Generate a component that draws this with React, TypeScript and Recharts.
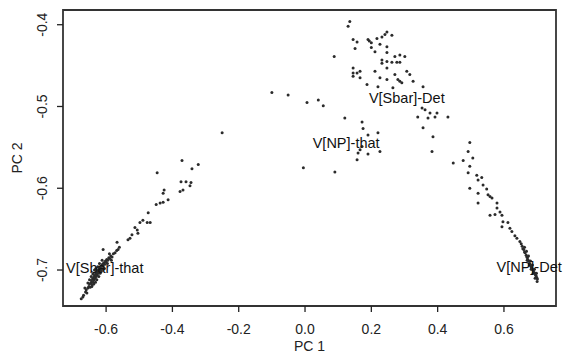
import React from "react";
import {
  ScatterChart,
  Scatter,
  XAxis,
  YAxis,
  ReferenceArea,
  ReferenceDot,
} from "recharts";

// PC scores
const leftArm: [number, number][] = [
  [-0.675, -0.735], [-0.668, -0.731], [-0.662, -0.727], [-0.66, -0.724],
  [-0.655, -0.722], [-0.652, -0.72], [-0.65, -0.717], [-0.648, -0.721],
  [-0.646, -0.716], [-0.644, -0.713], [-0.642, -0.718], [-0.641, -0.711],
  [-0.639, -0.715], [-0.638, -0.709], [-0.636, -0.712], [-0.635, -0.707],
  [-0.633, -0.71], [-0.632, -0.705], [-0.63, -0.708], [-0.629, -0.703],
  [-0.627, -0.706], [-0.626, -0.701], [-0.624, -0.704], [-0.622, -0.699],
  [-0.621, -0.702], [-0.619, -0.697], [-0.617, -0.7], [-0.615, -0.695],
  [-0.613, -0.698], [-0.611, -0.693], [-0.609, -0.695], [-0.607, -0.691],
  [-0.604, -0.693], [-0.602, -0.689], [-0.6, -0.69], [-0.598, -0.687],
  [-0.595, -0.688], [-0.592, -0.685], [-0.589, -0.686], [-0.586, -0.683],
  [-0.582, -0.684], [-0.578, -0.68], [-0.573, -0.679], [-0.568, -0.676],
  [-0.564, -0.675], [-0.56, -0.672], [-0.609, -0.675], [-0.567, -0.666],
  [-0.635, -0.7], [-0.628, -0.712], [-0.64, -0.705], [-0.622, -0.708],
  [-0.645, -0.708], [-0.618, -0.704], [-0.65, -0.712], [-0.615, -0.701],
  [-0.655, -0.716], [-0.61, -0.699], [-0.632, -0.715], [-0.625, -0.696],
  [-0.643, -0.72], [-0.612, -0.688], [-0.605, -0.698], [-0.596, -0.692],
  [-0.59, -0.68], [-0.584, -0.688], [-0.658, -0.728], [-0.664, -0.722],
  [-0.67, -0.733], [-0.62, -0.692], [-0.637, -0.717], [-0.631, -0.698],
  [-0.534, -0.663], [-0.528, -0.661], [-0.522, -0.657], [-0.506, -0.651],
  [-0.504, -0.655], [-0.513, -0.648], [-0.498, -0.642], [-0.489, -0.639],
  [-0.476, -0.642], [-0.467, -0.642], [-0.473, -0.63], [-0.449, -0.62],
  [-0.437, -0.618], [-0.428, -0.617], [-0.413, -0.614], [-0.428, -0.606],
  [-0.425, -0.602], [-0.377, -0.604], [-0.368, -0.602], [-0.374, -0.592],
  [-0.344, -0.593], [-0.359, -0.592], [-0.347, -0.597], [-0.446, -0.581],
  [-0.371, -0.566], [-0.341, -0.576], [-0.322, -0.571], [-0.25, -0.532],
];

const bridge: [number, number][] = [
  [-0.1, -0.483], [-0.051, -0.486], [0.006, -0.495], [0.04, -0.492],
  [0.055, -0.499], [-0.005, -0.575], [0.09, -0.58], [0.12, -0.514],
];

const topCluster: [number, number][] = [
  [0.135, -0.396], [0.13, -0.402], [0.088, -0.439], [0.145, -0.418],
  [0.157, -0.421], [0.151, -0.429], [0.19, -0.418], [0.194, -0.42],
  [0.2, -0.422], [0.217, -0.417], [0.232, -0.415], [0.241, -0.412],
  [0.247, -0.409], [0.262, -0.413], [0.226, -0.424], [0.247, -0.427],
  [0.2, -0.428], [0.211, -0.433], [0.247, -0.434], [0.271, -0.439],
  [0.286, -0.437], [0.301, -0.439], [0.232, -0.443], [0.232, -0.447],
  [0.247, -0.445], [0.262, -0.446], [0.277, -0.446], [0.286, -0.446],
  [0.247, -0.453], [0.145, -0.453], [0.166, -0.457], [0.145, -0.459],
  [0.157, -0.459], [0.145, -0.463], [0.166, -0.465], [0.211, -0.457],
  [0.271, -0.461], [0.307, -0.457], [0.316, -0.461], [0.28, -0.467],
  [0.286, -0.469], [0.292, -0.471], [0.226, -0.465], [0.247, -0.467],
  [0.187, -0.473], [0.22, -0.476], [0.265, -0.477], [0.326, -0.469],
  [0.356, -0.476],
];

const midCluster: [number, number][] = [
  [0.172, -0.519], [0.175, -0.527], [0.19, -0.535], [0.22, -0.532],
  [0.166, -0.553], [0.16, -0.557], [0.19, -0.558], [0.226, -0.555],
  [0.157, -0.565], [0.172, -0.549],
];

const rightArm: [number, number][] = [
  [0.353, -0.502], [0.362, -0.504], [0.377, -0.508], [0.398, -0.508],
  [0.392, -0.513], [0.431, -0.513], [0.34, -0.513], [0.371, -0.514],
  [0.356, -0.526], [0.386, -0.537], [0.383, -0.555], [0.497, -0.544],
  [0.492, -0.555], [0.477, -0.566], [0.506, -0.563], [0.447, -0.569],
  [0.497, -0.573], [0.492, -0.581], [0.518, -0.584], [0.522, -0.59],
  [0.533, -0.587], [0.537, -0.596], [0.548, -0.601], [0.497, -0.6],
  [0.522, -0.606], [0.552, -0.608], [0.558, -0.61], [0.564, -0.612],
  [0.579, -0.618], [0.522, -0.618], [0.579, -0.624], [0.588, -0.629],
  [0.573, -0.632], [0.558, -0.633], [0.594, -0.633], [0.597, -0.641],
  [0.612, -0.642], [0.594, -0.647], [0.618, -0.649], [0.624, -0.653],
  [0.633, -0.658], [0.639, -0.661], [0.648, -0.665], [0.652, -0.668],
  [0.655, -0.671], [0.657, -0.674], [0.66, -0.675], [0.662, -0.678],
  [0.664, -0.679], [0.667, -0.682], [0.669, -0.684], [0.671, -0.685],
  [0.673, -0.688], [0.675, -0.689], [0.677, -0.692], [0.679, -0.693],
  [0.681, -0.695], [0.683, -0.697], [0.685, -0.698], [0.687, -0.7],
  [0.689, -0.701], [0.691, -0.703], [0.693, -0.704], [0.695, -0.706],
  [0.697, -0.707], [0.699, -0.709], [0.701, -0.711], [0.662, -0.672],
  [0.668, -0.677], [0.674, -0.683], [0.68, -0.689], [0.686, -0.694],
  [0.692, -0.699], [0.698, -0.704], [0.7, -0.714], [0.694, -0.71],
  [0.688, -0.704], [0.682, -0.699], [0.676, -0.694], [0.67, -0.688],
];

const labels: { name: string; x: number; y: number }[] = [
  { name: "V[Sbar]-that", x: -0.604, y: -0.697 },
  { name: "V[Sbar]-Det", x: 0.307, y: -0.489 },
  { name: "V[NP]-that", x: 0.124, y: -0.544 },
  { name: "V[NP]-Det", x: 0.676, y: -0.696 },
];

const xTicks = [-0.6, -0.4, -0.2, 0, 0.2, 0.4, 0.6];
const yTicks = [-0.7, -0.6, -0.5, -0.4];
const xDomain: [number, number] = [-0.73, 0.757];
const yDomain: [number, number] = [-0.744, -0.382];

const FONT = "'Liberation Sans', Arial, sans-serif";
const INK = "#222";

const toPoints = (arr: [number, number][]) => arr.map(([x, y]) => ({ x, y }));
const allPoints = toPoints([
  ...leftArm,
  ...bridge,
  ...topCluster,
  ...midCluster,
  ...rightArm,
]);

const Dot = (props: any) => (
  <circle cx={props.cx} cy={props.cy} r={1.5} fill="#2b2b2b" />
);

const YTick = ({ x, y, payload }: any) => (
  <text
    x={x - 8}
    y={y}
    transform={`rotate(-90, ${x - 8}, ${y})`}
    textAnchor="middle"
    fontSize={14}
    fontFamily={FONT}
    fill={INK}
  >
    {payload.value.toFixed(1)}
  </text>
);

export default function App() {
  return (
    <div style={{ position: "absolute", left: 0, top: 0, background: "#fff" }}>
      <ScatterChart
        width={566}
        height={353}
        margin={{ top: 10, right: 10, bottom: 0, left: 0 }}
      >
        <XAxis
          type="number"
          dataKey="x"
          domain={xDomain}
          ticks={xTicks}
          tickFormatter={(v: number) => v.toFixed(1)}
          axisLine={false}
          tickSize={6}
          tickMargin={12}
          tickLine={{ stroke: INK, strokeWidth: 1.3 }}
          height={47}
          tick={{ fontSize: 14, fontFamily: FONT, fill: INK }}
          label={{
            value: "PC 1",
            position: "insideBottom",
            offset: 2,
            style: { fontSize: 14, fontFamily: FONT, fill: INK },
          }}
          allowDataOverflow
        />
        <YAxis
          type="number"
          dataKey="y"
          domain={yDomain}
          ticks={yTicks}
          axisLine={false}
          tickSize={6}
          tickLine={{ stroke: INK, strokeWidth: 1.3 }}
          width={63}
          tick={<YTick />}
          label={{
            value: "PC 2",
            angle: -90,
            position: "insideLeft",
            offset: 17,
            style: { fontSize: 14, fontFamily: FONT, fill: INK, textAnchor: "middle" },
          }}
          allowDataOverflow
        />
        <ReferenceArea
          x1={xDomain[0]}
          x2={xDomain[1]}
          y1={yDomain[0]}
          y2={yDomain[1]}
          fill="none"
          stroke="#333"
          strokeWidth={1.8}
          ifOverflow="visible"
        />
        <Scatter
          data={allPoints}
          shape={<Dot />}
          isAnimationActive={false}
        />
        {labels.map((l) => (
          <ReferenceDot
            key={l.name}
            x={l.x}
            y={l.y}
            r={1}
            fill="none"
            stroke="none"
            ifOverflow="visible"
            label={{
              value: l.name,
              position: "center",
              style: { fontSize: 14.5, fontFamily: FONT, fill: "#111" },
            }}
          />
        ))}
      </ScatterChart>
    </div>
  );
}
